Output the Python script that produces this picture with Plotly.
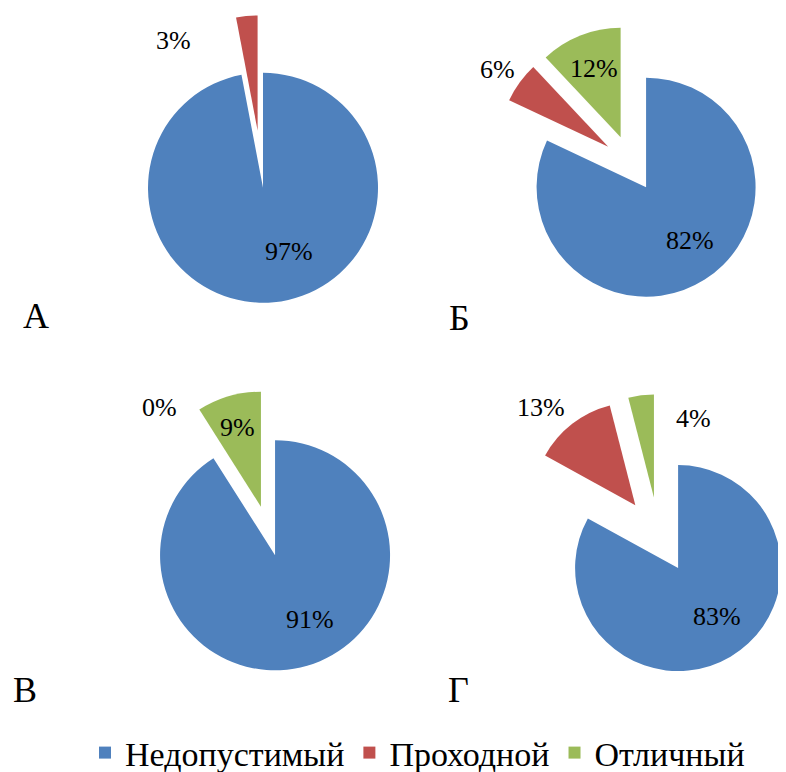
import math
import plotly.graph_objects as go

# ---------------- data ----------------
categories = ["Недопустимый", "Проходной", "Отличный"]
panel_names = ["А", "Б", "В", "Г"]
values_A = [97, 3, 0]
values_B = [82, 6, 12]
values_V = [91, 0, 9]
values_G = [83, 13, 4]

colors = ["#4F81BD", "#C0504D", "#9BBB59"]

# the page body has an 8px default margin, so the figure is drawn 8px in
OFF = 8
W, H = 786 - OFF, 774
FONT = "Liberation Serif"

# ---------------- layout constants (window pixels) ----------------
# centre (unexploded), radius, explosion fraction
pie_geom = {
    "А": dict(c=(260.3, 159.1), r=115, p=0.25),
    "Б": dict(c=(631.0, 163.4), r=109.5, p=0.257),
    "В": dict(c=(268.0, 531.0), r=115, p=0.22),
    "Г": dict(c=(658.7, 535.3), r=103, p=0.37),
}
label_pos = {
    "А": [(289, 251), (173, 40), None],
    "Б": [(690, 241), (497, 70), (594, 69)],
    "В": [(310, 619), (159, 408), (237, 427)],
    "Г": [(717, 616), (541, 407), (693, 418)],
}
letter_pos = {"А": (36, 316), "Б": (459, 318), "В": (25, 690), "Г": (458, 690)}
legend_left = 85


def px(x, y):
    """window pixel -> paper fraction"""
    return (x - OFF) / W, 1 - (y - OFF) / H


def dom(cx, cy, half):
    x0, y1 = px(cx - half, cy - half)
    x1, y0 = px(cx + half, cy + half)
    return dict(x=[max(0, x0), min(1, x1)], y=[max(0, y0), min(1, y1)])


fig = go.Figure()
series = {"А": values_A, "Б": values_B, "В": values_V, "Г": values_G}

# Б first so that the legend gets all three categories in order
order = ["Б", "А", "В"]
for name in order:
    g = pie_geom[name]
    vals = series[name]
    half = g["r"] * (1 + g["p"])
    fig.add_trace(go.Pie(
        labels=categories, values=vals, sort=False, direction="clockwise",
        rotation=0, pull=[g["p"]] * len(vals),
        marker=dict(colors=colors, line=dict(width=0)),
        textinfo="none", hoverinfo="label+percent",
        domain=dom(g["c"][0], g["c"][1], half),
        showlegend=(name == "Б"),
    ))

# Г: too close to the right edge for plotly's pull box, so each slice is
# drawn by its own trace centred at its exploded position.
g = pie_geom["Г"]
vals = values_G
total = sum(vals)
cum = 0
for i, v in enumerate(vals):
    mid = (cum + v / 2) / total * 2 * math.pi
    cum += v
    ax = g["c"][0] + g["p"] * g["r"] * math.sin(mid)
    ay = g["c"][1] - g["p"] * g["r"] * math.cos(mid)
    cols = [colors[j] if j == i else "rgba(0,0,0,0)" for j in range(len(vals))]
    fig.add_trace(go.Pie(
        labels=categories, values=vals, sort=False, direction="clockwise",
        rotation=0, marker=dict(colors=cols, line=dict(width=0)),
        textinfo="none", hoverinfo="skip",
        domain=dom(ax, ay, g["r"]), showlegend=False,
    ))

annotations = []
for name in panel_names:
    vals = series[name]
    for i, v in enumerate(vals):
        pos = label_pos[name][i]
        if pos is None:
            continue
        x, y = px(*pos)
        annotations.append(dict(
            x=x, y=y, xref="paper", yref="paper",
            text=f"{v}%", showarrow=False, xanchor="center", yanchor="middle",
            font=dict(family=FONT, size=26, color="#000000")))
    x, y = px(*letter_pos[name])
    annotations.append(dict(
        x=x, y=y, xref="paper", yref="paper", text=name,
        showarrow=False, xanchor="center", yanchor="middle",
        font=dict(family=FONT, size=36, color="#000000")))

fig.update_layout(
    width=W, height=H, margin=dict(l=0, r=0, t=0, b=0),
    paper_bgcolor="white", plot_bgcolor="white",
    font=dict(family=FONT, color="#000000"),
    annotations=annotations,
    legend=dict(orientation="h", x=px(legend_left, 0)[0], xanchor="left",
                y=0, yanchor="bottom",
                font=dict(family=FONT, size=34, color="#000000"),
                traceorder="normal"),
)
fig.write_html("out.html")
